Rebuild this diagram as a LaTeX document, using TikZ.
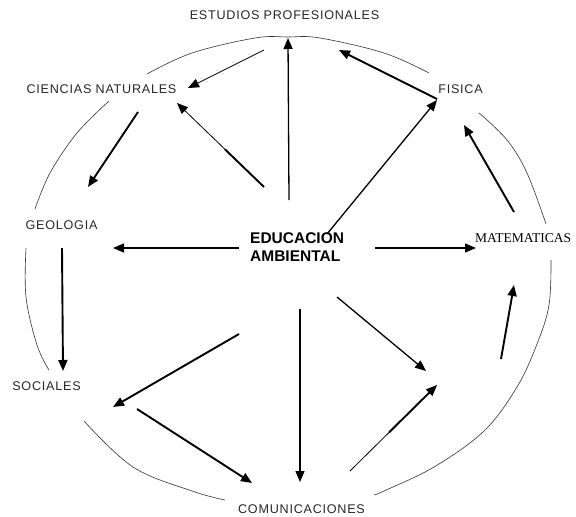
\documentclass[tikz,border=0pt]{standalone}
\usepackage{fontspec}
\setmainfont{Liberation Sans}
\newfontfamily\labfont[LetterSpace=6]{Liberation Sans}
\newfontfamily\matfont{Liberation Serif}
\usetikzlibrary{arrows.meta,calc}
\begin{document}
\begin{tikzpicture}[x=1pt,y=-1pt,
  lab/.style={font=\labfont\fontsize{12.6}{12.6}\selectfont, inner sep=0pt, text=black!85},
  ring/.style={line width=0.6pt, black!80},
  arr/.style={-{Triangle[length=11pt,width=9pt]}, line width=1.3pt},
  thinarr/.style={-{Triangle[length=11pt,width=9pt]}, line width=0.8pt},
  thickarr/.style={-{Triangle[length=11pt,width=9pt]}, line width=1.9pt},
  seg/.style={line width=1.9pt}]
\useasboundingbox (0,0) rectangle (576,517);
% labels
\node[lab] (est) at (284.5,15) {ESTUDIOS PROFESIONALES};
\node[lab] (cn) at (101.5,89) {CIENCIAS NATURALES};
\node[lab] (fis) at (460.5,89) {FISICA};
\node[lab] (geo) at (61.5,225) {GEOLOGIA};
\node[lab] (soc) at (46.5,386) {SOCIALES};
\node[lab] (com) at (301.5,509) {COMUNICACIONES};
\node[font=\matfont\fontsize{13.5}{13.5}\selectfont, anchor=west, inner sep=0pt] (mat) at (475,238) {MATEMATICAS};
\node[font=\bfseries\fontsize{15.5}{18}\selectfont, align=left, anchor=west, inner sep=0pt] (edu) at (250,247) {EDUCACION\\AMBIENTAL};
% ring arcs
\draw[ring] plot[smooth, tension=0.6] coordinates {(147,74) (192,53) (255,38) (288,37) (320,38) (384,53) (429,73)};
\draw[ring] plot[smooth, tension=0.6] coordinates {(109,101) (77,133) (50,173) (35,209)};
\draw[ring] plot[smooth, tension=0.6] coordinates {(26,248) (26,297) (37,345) (49,370)};
\draw[ring] plot[smooth, tension=0.6] coordinates {(84,421) (133,467) (192,491) (225,500)};
\draw[ring] plot[smooth, tension=0.6] coordinates {(479,113) (507,140) (527,173) (546,224)};
\draw[ring] plot[smooth, tension=0.6] coordinates {(551,260) (549,305) (537,344) (517,387) (484,431) (434,467) (384,491) (374,495)};
% connector end points
\coordinate (a1s) at (264,50);   \coordinate (a1e) at (188,88);
\coordinate (a2s) at (289,200);  \coordinate (a2e) at (288,38);
\coordinate (a3s) at (437,99);   \coordinate (a3e) at (339,50);
\coordinate (a4s) at (264,187);  \coordinate (a4e) at (177,103);
\coordinate (a4m) at ($(a4s)!0.45!(a4e)$);
\coordinate (a5s) at (327,234);  \coordinate (a5e) at (437,100);
\coordinate (a6s) at (138,112);  \coordinate (a6e) at (88,187);
\coordinate (a7s) at (514,212);  \coordinate (a7e) at (464,125);
\coordinate (a8s) at (239,248);  \coordinate (a8e) at (113,248);
\coordinate (a9s) at (375,248);  \coordinate (a9e) at (476,248);
\coordinate (a10s) at (62,248);  \coordinate (a10e) at (63,371);
\coordinate (a11s) at (239,334); \coordinate (a11e) at (113,407);
\coordinate (a12s) at (137,409); \coordinate (a12e) at (252,483);
\coordinate (a13s) at (300,309); \coordinate (a13e) at (300,482);
\coordinate (a14s) at (337,297); \coordinate (a14e) at (426,371);
\coordinate (a15s) at (350,471); \coordinate (a15e) at (437,385);
\coordinate (a15m) at ($(a15s)!0.45!(a15e)$);
\coordinate (a15n) at ($(a15e)!8pt!(a15s)$);
\coordinate (a16s) at (501,359); \coordinate (a16e) at (514,285);
% connectors
\draw[thinarr] (a1s) -- (a1e);
\draw[arr] (a2s) -- (a2e);
\draw[thickarr] (a3s) -- (a3e);
\draw[thinarr] (a4s) -- (a4e);
\draw[seg] (a4s) -- (a4m);
\draw[arr] (a5s) -- (a5e);
\draw[thickarr] (a6s) -- (a6e);
\draw[thickarr] (a7s) -- (a7e);
\draw[arr] (a8s) -- (a8e);
\draw[arr] (a9s) -- (a9e);
\draw[thickarr] (a10s) -- (a10e);
\draw[thickarr] (a11s) -- (a11e);
\draw[thickarr] (a12s) -- (a12e);
\draw[arr] (a13s) -- (a13e);
\draw[arr] (a14s) -- (a14e);
\draw[thinarr] (a15s) -- (a15e);
\draw[seg] (a15m) -- (a15n);
\draw[thickarr] (a16s) -- (a16e);
\end{tikzpicture}
\end{document}
